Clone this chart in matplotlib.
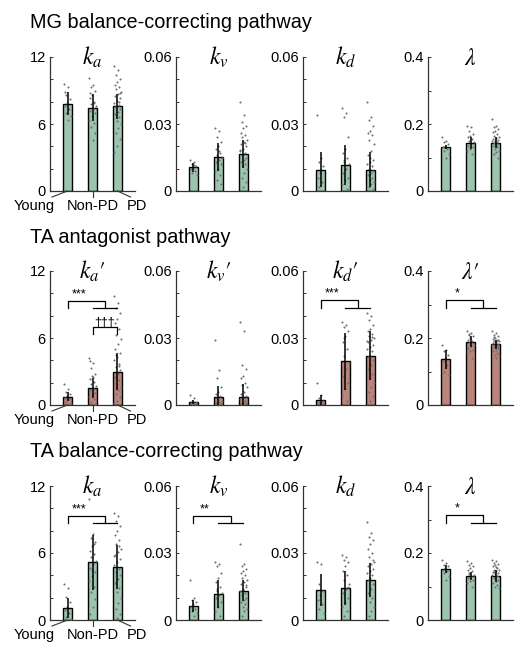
import matplotlib
matplotlib.use("Agg")
import matplotlib.pyplot as plt
import matplotlib.transforms as mtransforms
import numpy as np

plt.rcParams['font.family'] = ['Liberation Sans', 'DejaVu Sans']
plt.rcParams['mathtext.fontset'] = 'stix'

groups = ["Young", "Non-PD", "PD"]
row_titles = ["MG balance-correcting pathway", "TA antagonist pathway", "TA balance-correcting pathway"]
panel_titles = [
    [r"$k_a$", r"$k_v$", r"$k_d$", r"$\lambda$"],
    [r"$k_a\prime$", r"$k_v\prime$", r"$k_d\prime$", r"$\lambda\prime$"],
    [r"$k_a$", r"$k_v$", r"$k_d$", r"$\lambda$"],
]
ylims = [12, 0.06, 0.06, 0.4]
yticks_major = [[0, 6, 12], [0, 0.03, 0.06], [0, 0.03, 0.06], [0, 0.2, 0.4]]
yticklabels = [["0", "6", "12"], ["0", "0.03", "0.06"], ["0", "0.03", "0.06"], ["0", "0.2", "0.4"]]
yticks_minor = [[2, 4, 8, 10], [0.01, 0.02, 0.04, 0.05], [0.01, 0.02, 0.04, 0.05], [0.1, 0.3]]

# bar means and SDs [row][col][group]
means = [
    [[7.82, 7.46, 7.58], [0.0107, 0.0152, 0.0167], [0.0096, 0.0116, 0.0096], [0.131, 0.144, 0.144]],
    [[0.75, 1.53, 2.99], [0.0012, 0.0037, 0.0037], [0.0022, 0.0196, 0.0221], [0.136, 0.1885, 0.1815]],
    [[1.11, 5.19, 4.77], [0.0063, 0.0116, 0.0132], [0.0135, 0.0143, 0.018], [0.151, 0.130, 0.130]],
]
sds = [
    [[1.05, 1.20, 1.14], [0.0020, 0.0063, 0.0063], [0.0080, 0.0090, 0.0080], [0.006, 0.018, 0.016]],
    [[0.39, 0.89, 1.68], [0.0009, 0.0050, 0.0059], [0.0024, 0.0127, 0.0109], [0.028, 0.0165, 0.0135]],
    [[0.90, 2.46, 1.98], [0.0027, 0.0064, 0.0045], [0.0072, 0.0075, 0.0075], [0.012, 0.012, 0.018]],
]

# individual subject points [row][col][group]
points = [
    [
        [[9.6, 9.3, 8.6, 8.2, 7.9, 7.6, 7.3, 7.0, 6.7, 6.4, 8.9],
         [10.1, 9.5, 9.3, 9.0, 8.6, 8.3, 8.0, 7.8, 7.6, 7.4, 7.2, 7.0, 6.7, 6.4, 6.1, 5.7, 5.2, 4.6, 8.8, 7.9],
         [11.2, 10.8, 10.4, 10.0, 9.8, 9.5, 9.3, 9.1, 8.9, 8.7, 8.5, 8.3, 8.1, 7.9, 7.7, 7.5, 7.3, 7.1, 6.9, 6.6,
          6.3, 6.0, 5.6, 5.2, 4.7, 4.0, 3.5, 8.0, 7.6, 8.8]],
        [[0.014, 0.013, 0.012, 0.011, 0.0105, 0.010, 0.009, 0.008, 0.007, 0.0115],
         [0.028, 0.027, 0.024, 0.022, 0.020, 0.019, 0.017, 0.016, 0.015, 0.014, 0.013, 0.012, 0.010, 0.009, 0.007,
          0.005, 0.003, 0.018],
         [0.040, 0.034, 0.031, 0.029, 0.028, 0.026, 0.025, 0.024, 0.023, 0.022, 0.021, 0.020, 0.019, 0.018, 0.017,
          0.016, 0.015, 0.014, 0.013, 0.012, 0.011, 0.010, 0.008, 0.006, 0.004, 0.002, 0.0185, 0.0215]],
        [[0.034, 0.015, 0.013, 0.011, 0.008, 0.006, 0.004, 0.002],
         [0.037, 0.035, 0.033, 0.024, 0.019, 0.017, 0.015, 0.013, 0.012, 0.010, 0.008, 0.006, 0.005, 0.003, 0.001,
          0.014],
         [0.040, 0.033, 0.032, 0.029, 0.027, 0.026, 0.025, 0.023, 0.021, 0.018, 0.016, 0.014, 0.013, 0.012, 0.011,
          0.010, 0.009, 0.008, 0.007, 0.006, 0.005, 0.004, 0.003, 0.002, 0.001, 0.015]],
        [[0.16, 0.15, 0.145, 0.14, 0.135, 0.13, 0.125, 0.12, 0.11, 0.10],
         [0.195, 0.19, 0.18, 0.17, 0.165, 0.16, 0.155, 0.15, 0.145, 0.14, 0.135, 0.13, 0.125, 0.12, 0.11],
         [0.215, 0.195, 0.19, 0.185, 0.18, 0.175, 0.17, 0.165, 0.16, 0.158, 0.155, 0.152, 0.15, 0.148, 0.145,
          0.142, 0.14, 0.137, 0.135, 0.13, 0.125, 0.12, 0.115, 0.11, 0.10]],
    ],
    [
        [[1.9, 1.4, 1.2, 1.0, 0.8, 0.6, 0.5, 0.3, 0.2],
         [4.2, 3.8, 3.3, 2.8, 2.6, 2.3, 2.1, 1.9, 1.7, 1.5, 1.3, 1.1, 0.9, 0.7, 0.5, 0.3, 0.1, 2.5, 3.9],
         [9.8, 9.1, 8.7, 8.2, 7.7, 7.3, 6.8, 6.3, 5.9, 5.5, 5.0, 4.7, 4.3, 4.0, 3.7, 3.4, 3.1, 2.8, 2.5, 2.2,
          1.9, 1.6, 1.3, 1.0, 0.7, 0.4, 0.2, 3.5, 4.5]],
        [[0.0045, 0.003, 0.002, 0.0015, 0.001, 0.0008, 0.0005, 0.0003],
         [0.029, 0.0155, 0.012, 0.008, 0.006, 0.005, 0.004, 0.003, 0.002, 0.0015, 0.001, 0.0005, 0.0002],
         [0.037, 0.033, 0.018, 0.016, 0.013, 0.012, 0.010, 0.009, 0.008, 0.006, 0.005, 0.004, 0.003, 0.0025,
          0.002, 0.0015, 0.001, 0.0005, 0.0003]],
        [[0.0097, 0.0045, 0.003, 0.002, 0.0015, 0.001, 0.0005],
         [0.037, 0.036, 0.035, 0.033, 0.031, 0.028, 0.025, 0.022, 0.019, 0.016, 0.013, 0.010, 0.007, 0.004,
          0.002, 0.030],
         [0.041, 0.040, 0.038, 0.036, 0.034, 0.033, 0.032, 0.031, 0.030, 0.029, 0.028, 0.027, 0.026, 0.025,
          0.024, 0.022, 0.020, 0.018, 0.016, 0.014, 0.012, 0.010, 0.008, 0.006, 0.004, 0.002, 0.0285, 0.0305]],
        [[0.18, 0.165, 0.16, 0.15, 0.14, 0.13, 0.12, 0.10, 0.09],
         [0.22, 0.215, 0.21, 0.205, 0.20, 0.195, 0.19, 0.185, 0.18, 0.175, 0.17, 0.165, 0.16, 0.155, 0.14, 0.212],
         [0.22, 0.215, 0.21, 0.205, 0.20, 0.198, 0.195, 0.192, 0.19, 0.188, 0.185, 0.182, 0.18, 0.178, 0.175,
          0.172, 0.17, 0.165, 0.16, 0.155, 0.15, 0.145, 0.14, 0.202, 0.193]],
    ],
    [
        [[3.2, 2.9, 2.1, 1.6, 1.2, 0.9, 0.6, 0.3, 0.1],
         [10.8, 7.7, 7.3, 7.0, 6.6, 6.2, 5.9, 5.6, 5.3, 5.0, 4.7, 4.3, 3.9, 3.5, 3.0, 2.5, 1.9, 1.2, 0.5, 6.8, 4.5],
         [9.6, 9.3, 8.9, 8.4, 8.0, 7.6, 7.2, 6.8, 6.4, 6.1, 5.8, 5.5, 5.2, 4.9, 4.6, 4.3, 4.0, 3.7, 3.3, 2.9,
          2.5, 2.0, 1.5, 1.0, 0.5, 0.2, 5.7, 6.6]],
        [[0.018, 0.010, 0.009, 0.008, 0.007, 0.006, 0.005, 0.004, 0.003, 0.002],
         [0.026, 0.025, 0.024, 0.021, 0.019, 0.017, 0.015, 0.013, 0.012, 0.011, 0.010, 0.008, 0.006, 0.004,
          0.002, 0.014],
         [0.034, 0.025, 0.024, 0.023, 0.022, 0.021, 0.020, 0.019, 0.018, 0.017, 0.016, 0.015, 0.014, 0.013,
          0.012, 0.011, 0.010, 0.009, 0.008, 0.007, 0.006, 0.005, 0.004, 0.002, 0.0155, 0.0135]],
        [[0.026, 0.025, 0.016, 0.013, 0.011, 0.009, 0.007, 0.005, 0.003],
         [0.029, 0.028, 0.027, 0.026, 0.024, 0.022, 0.020, 0.018, 0.016, 0.014, 0.012, 0.010, 0.008, 0.006,
          0.004, 0.002, 0.015],
         [0.044, 0.039, 0.037, 0.036, 0.034, 0.032, 0.030, 0.028, 0.026, 0.025, 0.024, 0.023, 0.022, 0.021,
          0.020, 0.018, 0.016, 0.014, 0.012, 0.010, 0.008, 0.006, 0.004, 0.002, 0.027, 0.019]],
        [[0.18, 0.17, 0.165, 0.16, 0.155, 0.15, 0.145, 0.14, 0.13, 0.12],
         [0.175, 0.17, 0.165, 0.16, 0.155, 0.15, 0.145, 0.14, 0.135, 0.13, 0.125, 0.12, 0.115, 0.11, 0.10, 0.138],
         [0.18, 0.175, 0.17, 0.168, 0.165, 0.16, 0.155, 0.15, 0.148, 0.145, 0.142, 0.14, 0.137, 0.135, 0.13,
          0.125, 0.12, 0.115, 0.11, 0.105, 0.10, 0.095, 0.158, 0.143]],
    ],
]

# significance brackets: (row, col, top level, lower level, label)
sig_brackets = [
    (1, 0, 9.3, 8.7, "***"),
    (1, 2, 0.0468, 0.0435, "***"),
    (1, 3, 0.312, 0.290, "*"),
    (2, 0, 9.3, 8.7, "***"),
    (2, 1, 0.0465, 0.0435, "**"),
    (2, 3, 0.312, 0.290, "*"),
]
# Non-PD vs PD bracket: (row, col, level, leg bottom, label)
dagger_brackets = [(1, 0, 6.97, 6.4, "\u2020\u2020\u2020")]

row_colors = ["#9dc4ae", "#b9857a", "#9dc4ae"]

W, H = 519, 645
fig = plt.figure(figsize=(W / 100, H / 100), dpi=100)

left_px = [50, 176, 303, 428]
bottom_px = [191, 405, 620]
ax_w_px, ax_h_px = 85, 134
title_base_px = [28, 243, 457]

x = np.array([1, 2, 3])
for r in range(3):
    fig.text(30 / W, 1 - title_base_px[r] / H, row_titles[r], fontsize=14.3, ha='left', va='baseline')
    for c in range(4):
        ax = fig.add_axes([left_px[c] / W, 1 - bottom_px[r] / H, ax_w_px / W, ax_h_px / H])
        ax.set_xlim(0.3, 3.7)
        ax.set_ylim(0, ylims[c])
        ax.bar(x, means[r][c], width=0.33, color=row_colors[r], edgecolor='black', linewidth=1.0, zorder=2)
        for g in range(3):
            vals = np.array(points[r][c][g])
            n = len(vals)
            jit = (((np.arange(n) * 0.618034) % 1.0) - 0.5) * 0.28
            ax.scatter(x[g] + jit, vals, s=2.2, color='#6f6f6f', linewidths=0, zorder=3, clip_on=False)
            ax.plot([x[g], x[g]], [means[r][c][g] - sds[r][c][g], means[r][c][g] + sds[r][c][g]],
                    color='black', lw=1.1, zorder=4, solid_capstyle='butt')
        for s in ['top', 'right']:
            ax.spines[s].set_visible(False)
        for s in ['left', 'bottom']:
            ax.spines[s].set_color('#333333')
            ax.spines[s].set_linewidth(0.9)
        ax.set_xticks([])
        ax.set_yticks(yticks_major[c])
        ax.set_yticklabels(yticklabels[c])
        ax.set_yticks(yticks_minor[c], minor=True)
        ax.tick_params(axis='y', which='both', direction='in', length=2.5, width=0.7,
                       color='#333333', labelsize=10.5, pad=3)
        ax.text(0.5, 0.94, panel_titles[r][c], transform=ax.transAxes, ha='center', va='baseline',
                fontsize=17)
        if c == 0:
            trans = mtransforms.blended_transform_factory(ax.transData, ax.transAxes)
            ends = [0.38, 2.0, 3.52]
            lab_x = [-0.35, 2.0, 3.78]
            for g in range(3):
                ax.plot([x[g], ends[g]], [0, -0.045], transform=trans, color='#333333', lw=0.8,
                        clip_on=False)
                ax.text(lab_x[g], -0.06, groups[g], transform=trans, ha='center', va='top',
                        fontsize=10.5)
        for (rr, cc, top, low, lab) in sig_brackets:
            if rr == r and cc == c:
                ax.plot([1, 1, 2.5, 2.5], [low, top, top, low], color='black', lw=0.9, zorder=5)
                ax.plot([2, 3], [low, low], color='black', lw=0.9, zorder=5)
                ax.text(1.45, top + ylims[c] * 0.005, lab, ha='center', va='bottom', fontsize=9)
        for (rr, cc, lev, legb, lab) in dagger_brackets:
            if rr == r and cc == c:
                ax.plot([2, 2, 3, 3], [legb, lev, lev, legb], color='black', lw=0.9, zorder=5)
                ax.text(2.5, lev - ylims[c] * 0.01, lab, ha='center', va='bottom', fontsize=9)

fig.savefig("out.png", dpi=100)
